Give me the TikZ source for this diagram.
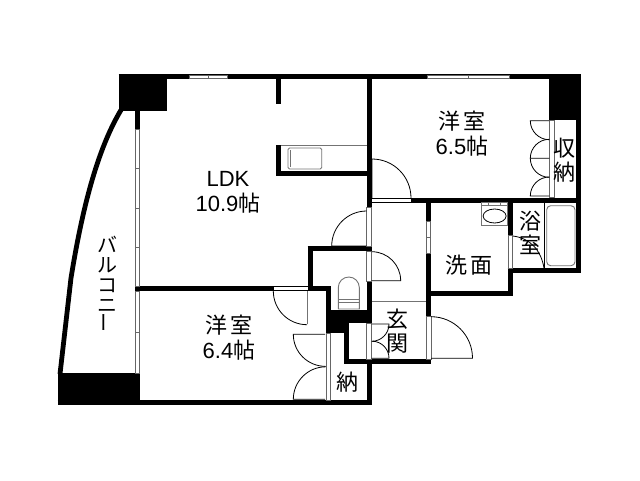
\documentclass[tikz,border=0pt]{standalone}
\usepackage{fontspec}
\setmainfont{Liberation Sans}
\newfontfamily\jpfont{Noto Sans CJK JP}
\tikzset{
wall/.style={line width=5,line cap=butt,line join=miter},
fine/.style={line width=0.8},
grey/.style={line width=0.9,draw=black!55},
glass/.style={fill=white,draw=black!60,line width=0.8},
roomlabel/.style={font=\fontsize{22}{24}\selectfont,align=center,inner sep=0},
kanalabel/.style={font=\fontsize{20}{20}\selectfont,align=center,inner sep=0},
}
\newcommand{\ja}[1]{{\jpfont #1}}
\begin{document}
\begin{tikzpicture}[x=1pt,y=-1pt]
\useasboundingbox (0,0) rectangle (640,480);
% outer walls
\draw[wall] (118.7,76.7) -- (580.7,76.7);
\draw[wall] (578.2,74) -- (578.2,272.7);
\draw[wall] (57.7,402.7) -- (371.7,402.7);
\draw[wall] (369.2,361) -- (369.2,405);
\draw[wall] (344,361.5) -- (431,361.5);
\draw[wall] (346.8,323) -- (346.8,364);
\draw[wall] (428.5,200) -- (428.5,364);
\draw[wall] (369.2,74) -- (369.2,207);
\draw[wall] (411,200) -- (581,200);
\draw[wall] (428.5,293.5) -- (512.7,293.5);
\draw[wall] (510.2,202) -- (510.2,296);
\draw[wall] (507.7,270.2) -- (581,270.2);
% black blocks
\fill (118.7,74) rectangle (167.3,111);
\fill (549,74) rectangle (580.7,120);
\fill (57.7,373) rectangle (140,405);
\fill (326,310) rectangle (371.7,323);
\fill (326,310) rectangle (349,333);
% balcony
\draw[line width=4.8] (121,110) .. controls (97,150) and (82,210) .. (71,278) -- (60,374);
% LDK walls
\draw[wall] (137.5,111) -- (137.5,129);
\draw[wall] (278.6,79) -- (278.6,104);
\draw[wall] (278.6,145) -- (278.6,176);
\draw[wall] (276,173.5) -- (367,173.5);
\draw[wall] (135,288.5) -- (273.3,288.5);
% WC walls
\draw[wall] (307.7,248.5) -- (371.7,248.5);
\draw[wall] (310.2,246) -- (310.2,291);
\draw[wall] (307.7,288.5) -- (330.7,288.5);
\draw[wall] (328.2,286) -- (328.2,333);
\draw[wall] (369.2,281) -- (369.2,323);
% windows
\draw[glass] (189,75.3) rectangle (208,78.3);
\draw[glass] (208,75.3) rectangle (227,78.3);
\draw[glass] (427,75.3) rectangle (468,78.3);
\draw[glass] (468,75.3) rectangle (509.3,78.3);
\foreach \a/\b in {129/168,168/208,208/247,247/286,291/332,332/373}
  \draw[glass] (135.8,\a) rectangle (139.2,\b);
\foreach \a/\b in {221.7/237,237/253}
  \draw[glass] (426.8,\a) rectangle (430.2,\b);
% door openings
\draw[glass,draw=black] (371.7,198) rectangle (411,202.7);
\draw[glass,draw=black] (273.3,286.5) rectangle (308,290.5);
\draw[glass] (507.9,235) rectangle (512.7,268);
\draw[glass] (366.7,207) rectangle (371.7,246);
\draw[glass] (366.7,251) rectangle (371.7,281);
\draw[glass] (366.7,323) rectangle (371.7,359);
\draw[glass] (426,316.7) rectangle (431,359);
\draw[glass] (326,333) rectangle (330.2,400.3);
\draw[glass] (549.3,120) rectangle (554,197.5);
% door swings
\draw[fine] (372,198) -- (372,159) arc[start angle=-90,end angle=0,radius=39];
\draw[fine] (366.7,246) -- (331.7,246) arc[start angle=180,end angle=270,radius=35];
\draw[fine] (371.7,251.7) arc[start angle=-90,end angle=0,radius=29] -- (371.7,280.7);
\draw[grey] (307,291) -- (307,323.5);
\draw[fine] (273.3,291) arc[start angle=180,end angle=90,radius=33.7];
\draw[fine] (431,316.7) arc[start angle=-90,end angle=0,radius=41.5] -- (431,358.2);
\draw[fine] (371.7,324) -- (389,324) arc[start angle=0,end angle=90,radius=17.3];
\draw[fine] (371.7,358.2) -- (389,358.2) arc[start angle=0,end angle=-90,radius=17];
\draw[fine] (325,334.3) -- (293.3,334.3) arc[start angle=180,end angle=90,radius=32];
\draw[fine] (325,399.3) -- (293.3,399.3) arc[start angle=180,end angle=270,radius=32.5];
% closet doors
\draw[fine] (549.3,120.7) -- (530.3,120.7) arc[start angle=180,end angle=90,radius=19];
\draw[fine] (549.3,158.3) -- (530.3,158.3) arc[start angle=180,end angle=270,radius=19];
\draw[fine] (530.3,158.3) arc[start angle=180,end angle=90,radius=19];
\draw[fine] (549.3,196) -- (530.3,196) arc[start angle=180,end angle=270,radius=19];
% hall and bath lines
\draw[grey] (371.7,301) -- (426,301);
\draw[fine] (544,202.7) -- (544,268);
\draw[fine] (512.7,236) .. controls (530,238) and (541,250) .. (544,268);
\draw[grey,rounded corners=4] (546.7,205.7) rectangle (575,265.7);
% kitchen
\draw[grey] (281,145) -- (367,145);
\draw[grey,rounded corners=1.5] (288,148) rectangle (321.7,169);
\draw[grey] (290,150) -- (290,167);
% toilet
\draw[grey] (338.3,309) -- (359.3,309) -- (359.3,287.5) arc[start angle=0,end angle=-180,radius=10.5] -- (338.3,309);
\draw[grey] (338.3,299.5) -- (359.3,299.5);
\draw[grey] (338.3,302.5) -- (359.3,302.5);
% sink
\draw[grey] (481,202.7) rectangle (507.7,225);
\draw[grey] (481,205.9) -- (507.7,205.9);
\draw[grey] (488.5,202.7) -- (488.5,205.9);
\draw[grey] (500.7,202.7) -- (500.7,205.9);
\draw[fine] (494.6,216) ellipse [x radius=11.5,y radius=7];
% labels
\node[roomlabel] (ldk) at (228,192) {LDK\\[1pt]10.9\ja{帖}};
\node[roomlabel] (west) at (462,134) {\ja{洋\,室}\\[1pt]6.5\ja{帖}};
\node[roomlabel] (south) at (229,338) {\ja{洋\,室}\\[1pt]6.4\ja{帖}};
\node[roomlabel] (shuno) at (564.5,160) {\ja{収}\\\ja{納}};
\node[roomlabel] (nando) at (347,381.7) {\ja{納}};
\node[roomlabel] (senmen) at (469,265) {\ja{洗\,面}};
\node[roomlabel] (yoku) at (530.7,233) {\ja{浴}\\\ja{室}};
\node[roomlabel] (genkan) at (397,331) {\ja{玄}\\\ja{関}};
\node[kanalabel] (balcony) at (107.5,284) {\ja{バ}\\\ja{ル}\\\ja{コ}\\\ja{ニ}\\\rotatebox{90}{\ja{ー}}};
\end{tikzpicture}
\end{document}
